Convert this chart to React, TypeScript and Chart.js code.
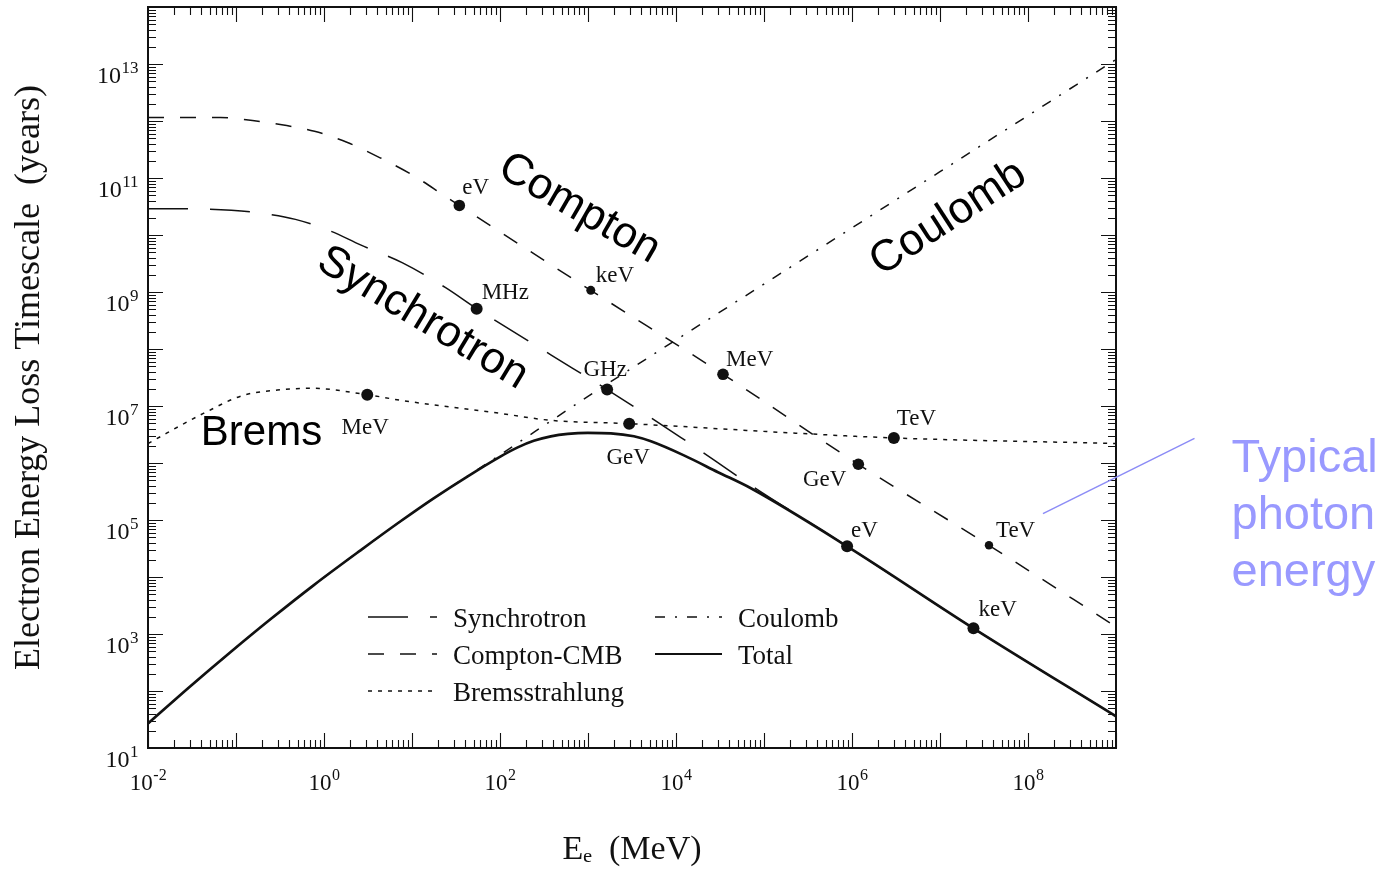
import React, { useEffect, useRef } from 'react';
import { Chart, registerables } from 'chart.js';

Chart.register(...registerables);

const SERIF = '"Liberation Serif", "Times New Roman", Times, serif';
const SANS = '"Liberation Sans", Arial, Helvetica, sans-serif';
const INK = '#111111';
const BLUE = '#9999ff';

// ---------------- data (electron energy in MeV, timescale in years) ----------------
const synchrotronE = [0.01, 0.0303, 0.0887, 0.2, 0.474, 1.19, 2.6, 7.82, 24.1, 54.3, 378, 1650, 1.14e4, 7.7e4, 8.8e5, 2.4e7, 1e9];
const synchrotronT = [2.9e10, 2.88e10, 2.71e10, 2.4e10, 1.88e10, 1.17e10, 6.7e9, 3.25e9, 1.19e9, 5.1e8, 7.9e7, 1.94e7, 2.8e6, 3.75e5, 3.46e4, 1260, 36];

const comptonE = [0.01, 0.0665, 0.154, 0.346, 0.78, 1.85, 4.4, 10.2, 22.9, 34.5, 1076, 3.42e4, 1.18e6, 3.6e7, 1e9];
const comptonT = [1.15e12, 1.15e12, 1.02e12, 8.5e11, 6.6e11, 4.2e11, 2.24e11, 1.12e11, 5.0e10, 3.3e10, 1.07e9, 3.6e7, 9.5e5, 3.6e4, 1340];

const bremsE = [0.01, 0.0426, 0.121, 0.296, 0.702, 3.1, 7.41, 102, 378, 2940, 2.6e5, 2.99e6, 1e9];
const bremsT = [2.2e6, 7.4e6, 1.54e7, 1.9e7, 2.05e7, 1.58e7, 1.26e7, 7.4e6, 5.6e6, 4.9e6, 3.3e6, 2.75e6, 2.2e6];

const coulombE = [0.01, 0.0303, 0.0863, 0.246, 0.76, 2.6, 7.41, 17.6, 43, 102, 1000, 1e5, 1e7, 1e9];
const coulombT = [26.8, 121, 478, 1810, 7150, 2.94e4, 9.5e4, 2.4e5, 5.9e5, 1.42e6, 1.47e7, 1.38e9, 1.29e11, 1.2e13];

const totalE = [0.01, 0.0303, 0.0863, 0.246, 0.76, 2.6, 7.41, 17.6, 43, 102, 159, 242, 378, 590, 995, 1820, 3320, 5190, 1.23e4, 3.0e4, 7.1e4, 8.8e5, 2.4e7, 1e9];
const totalT = [26.8, 121, 478, 1810, 7150, 2.94e4, 9.5e4, 2.4e5, 5.85e5, 1.31e6, 1.88e6, 2.45e6, 2.94e6, 3.25e6, 3.39e6, 3.32e6, 2.94e6, 2.4e6, 1.36e6, 6.9e5, 3.6e5, 3.46e4, 1260, 36];

// typical photon energy markers
const comptonMarkE = [34.5, 1076, 3.42e4, 1.18e6, 3.6e7];
const comptonMarkT = [3.3e10, 1.07e9, 3.6e7, 9.5e5, 3.6e4];
const comptonMarkLabels = ['eV', 'keV', 'MeV', 'GeV', 'TeV'];

const synchrotronMarkE = [54.3, 1650];
const synchrotronMarkT = [5.1e8, 1.94e7];
const synchrotronMarkLabels = ['MHz', 'GHz'];

const bremsMarkE = [3.1, 2940, 2.99e6];
const bremsMarkT = [1.58e7, 4.9e6, 2.75e6];
const bremsMarkLabels = ['MeV', 'GeV', 'TeV'];

const totalMarkE = [8.8e5, 2.4e7];
const totalMarkT = [3.46e4, 1260];
const totalMarkLabels = ['eV', 'keV'];

// axis ticks (powers of ten that carry a label)
const xTickExponents = [-2, 0, 2, 4, 6, 8];
const yTickExponents = [1, 3, 5, 7, 9, 11, 13];

const xTitle = 'Eₑ  (MeV)';
const yTitle = 'Electron Energy Loss Timescale  (years)';

// large overlay labels (anchored in data space)
const bigLabelTexts = ['Compton', 'Synchrotron', 'Coulomb', 'Brems'];
const bigLabelE = [796, 13.2, 1.24e7, 0.195];
const bigLabelT = [2.9e10, 3.46e8, 1.96e10, 3.25e6];

const noteLines = ['Typical', 'photon', 'energy'];
const notePointerE = [1.48e8, 7.8e9];
const notePointerT = [1.29e5, 2.71e6];

// ---------------- styles ----------------
const STYLE = {
  synchrotron: { dash: [40, 22], width: 1.5, label: 'Synchrotron' },
  compton: { dash: [16, 16], width: 1.5, label: 'Compton-CMB' },
  brems: { dash: [4, 6], width: 1.5, label: 'Bremsstrahlung' },
  coulomb: { dash: [10, 10, 2, 10], width: 1.5, label: 'Coulomb' },
  total: { dash: [] as number[], width: 2.7, label: 'Total' },
};

const bigLabelRotation = [30, 31, -33, 0];
const bigLabelSize = [44, 44, 44, 42];

// [dx, dy(baseline), align] relative to marker pixel
const comptonMarkOffsets: [number, number, CanvasTextAlign][] = [[3, -11, 'left'], [5, -8, 'left'], [3, -8, 'left'], [-12, 22, 'right'], [7, -8, 'left']];
const synchrotronMarkOffsets: [number, number, CanvasTextAlign][] = [[5, -10, 'left'], [-2, -14, 'center']];
const bremsMarkOffsets: [number, number, CanvasTextAlign][] = [[-2, 39, 'center'], [-1, 40, 'center'], [3, -13, 'left']];
const totalMarkOffsets: [number, number, CanvasTextAlign][] = [[4, -9, 'left'], [5, -12, 'left']];

const comptonMarkRadius = [5.8, 4.5, 5.8, 5.8, 4.2];
const synchrotronMarkRadius = [6, 6];
const bremsMarkRadius = [6, 6, 6];
const totalMarkRadius = [6, 6];

const pts = (e: number[], t: number[]) => e.map((x, i) => ({ x, y: t[i] }));

const lineDataset = (key: keyof typeof STYLE, e: number[], t: number[], order: number) => ({
  label: STYLE[key].label,
  data: pts(e, t),
  borderColor: INK,
  borderWidth: STYLE[key].width,
  borderDash: STYLE[key].dash,
  borderCapStyle: 'butt',
  borderJoinStyle: 'round',
  pointRadius: 0,
  fill: false,
  cubicInterpolationMode: 'monotone',
  order,
});

const markerDataset = (label: string, e: number[], t: number[], r: number[]) => ({
  label,
  data: pts(e, t),
  showLine: false,
  pointRadius: r,
  pointBackgroundColor: INK,
  pointBorderColor: INK,
  pointBorderWidth: 0,
  order: 0,
});

const overlayPlugin = {
  id: 'overlay',
  afterDraw(chart: any) {
    const { ctx, chartArea: a } = chart;
    const xs = chart.scales.x;
    const ys = chart.scales.y;
    ctx.save();
    ctx.setLineDash([]);

    // frame
    ctx.strokeStyle = INK;
    ctx.lineWidth = 2;
    ctx.strokeRect(a.left, a.top, a.right - a.left, a.bottom - a.top);

    // inward log ticks on all four sides
    ctx.lineWidth = 1.1;
    ctx.beginPath();
    for (let n = -2; n <= 9; n++) {
      for (let k = 1; k <= 9; k++) {
        const v = k * Math.pow(10, n);
        if (v < xs.min * 0.999 || v > xs.max * 1.001) continue;
        const p = Math.round(xs.getPixelForValue(v)) + 0.5;
        const len = k === 1 ? 15 : 8;
        ctx.moveTo(p, a.bottom);
        ctx.lineTo(p, a.bottom - len);
        ctx.moveTo(p, a.top);
        ctx.lineTo(p, a.top + len);
      }
    }
    for (let n = 1; n <= 14; n++) {
      for (let k = 1; k <= 9; k++) {
        const v = k * Math.pow(10, n);
        if (v < ys.min * 0.999 || v > ys.max * 1.001) continue;
        const p = Math.round(ys.getPixelForValue(v)) + 0.5;
        const len = k === 1 ? 15 : 8;
        ctx.moveTo(a.left, p);
        ctx.lineTo(a.left + len, p);
        ctx.moveTo(a.right, p);
        ctx.lineTo(a.right - len, p);
      }
    }
    ctx.stroke();

    // tick labels: 10^n
    ctx.fillStyle = INK;
    ctx.textBaseline = 'alphabetic';
    ctx.textAlign = 'left';
    const drawPow = (exp: number, anchorX: number, baseline: number, align: 'center' | 'right', baseSize: number, expSize: number) => {
      const b = '10';
      const e = String(exp);
      ctx.font = `${baseSize}px ${SERIF}`;
      const wb = ctx.measureText(b).width;
      ctx.font = `${expSize}px ${SERIF}`;
      const we = ctx.measureText(e).width;
      const x0 = align === 'center' ? anchorX - (wb + we) / 2 : anchorX - wb - we;
      ctx.font = `${baseSize}px ${SERIF}`;
      ctx.fillText(b, x0, baseline);
      ctx.font = `${expSize}px ${SERIF}`;
      ctx.fillText(e, x0 + wb + 0.5, baseline - 10);
    };
    xTickExponents.forEach((n) => {
      const p = xs.getPixelForValue(Math.pow(10, n));
      drawPow(n, p, a.bottom + 42, 'center', 23, 16);
    });
    yTickExponents.forEach((n) => {
      const p = ys.getPixelForValue(Math.pow(10, n));
      drawPow(n, a.left - 10, p + 19, 'right', 24, 17);
    });

    // marker labels
    ctx.font = `23px ${SERIF}`;
    const markerGroups: [number, string[], [number, number, CanvasTextAlign][]][] = [
      [0, comptonMarkLabels, comptonMarkOffsets],
      [1, synchrotronMarkLabels, synchrotronMarkOffsets],
      [2, bremsMarkLabels, bremsMarkOffsets],
      [3, totalMarkLabels, totalMarkOffsets],
    ];
    markerGroups.forEach(([di, labels, offs]) => {
      const meta = chart.getDatasetMeta(di);
      meta.data.forEach((pt: any, i: number) => {
        const [dx, dy, al] = offs[i];
        ctx.textAlign = al;
        ctx.fillText(labels[i], pt.x + dx, pt.y + dy);
      });
    });

    // legend (inside the plot, two columns)
    const legendEntries: [keyof typeof STYLE, number, number][] = [
      ['synchrotron', 0, 0],
      ['compton', 0, 1],
      ['brems', 0, 2],
      ['coulomb', 1, 0],
      ['total', 1, 1],
    ];
    const colSample = [[a.left + 220, a.left + 289], [a.left + 507, a.left + 574]];
    const colText = [a.left + 305, a.left + 590];
    legendEntries.forEach(([key, col, row]) => {
      const s = STYLE[key];
      const yLine = a.bottom - 131 + row * 37;
      ctx.beginPath();
      ctx.setLineDash(s.dash);
      ctx.lineWidth = key === 'total' ? 2 : s.width;
      ctx.lineCap = 'butt';
      ctx.strokeStyle = INK;
      ctx.moveTo(colSample[col][0], yLine);
      ctx.lineTo(colSample[col][1], yLine);
      ctx.stroke();
      ctx.setLineDash([]);
      ctx.font = `27px ${SERIF}`;
      ctx.textAlign = 'left';
      ctx.fillText(s.label, colText[col], yLine + 10);
    });

    // large overlay labels
    bigLabelTexts.forEach((txt, i) => {
      const px = xs.getPixelForValue(bigLabelE[i]);
      const py = ys.getPixelForValue(bigLabelT[i]);
      ctx.save();
      ctx.translate(px, py);
      ctx.rotate((bigLabelRotation[i] * Math.PI) / 180);
      ctx.font = `${bigLabelSize[i]}px ${SANS}`;
      ctx.textAlign = 'center';
      ctx.textBaseline = 'middle';
      ctx.fillStyle = '#000';
      ctx.fillText(txt, 0, 0);
      ctx.restore();
    });

    // "Typical photon energy" note with pointer
    const p0x = xs.getPixelForValue(notePointerE[0]);
    const p0y = ys.getPixelForValue(notePointerT[0]);
    const p1x = xs.getPixelForValue(notePointerE[1]);
    const p1y = ys.getPixelForValue(notePointerT[1]);
    ctx.beginPath();
    ctx.strokeStyle = '#8c8cf6';
    ctx.lineWidth = 1.5;
    ctx.moveTo(p0x, p0y);
    ctx.lineTo(p1x, p1y);
    ctx.stroke();
    ctx.fillStyle = BLUE;
    ctx.font = `47px ${SANS}`;
    ctx.textAlign = 'left';
    ctx.textBaseline = 'alphabetic';
    noteLines.forEach((ln, i) => {
      ctx.fillText(ln, p1x + 37, p1y + 34 + i * 57);
    });

    ctx.restore();
  },
};

export default function App() {
  const canvasRef = useRef<HTMLCanvasElement | null>(null);

  useEffect(() => {
    if (!canvasRef.current) return;
    const chart = new Chart(canvasRef.current, {
      type: 'line',
      data: {
        datasets: [
          markerDataset('Compton markers', comptonMarkE, comptonMarkT, comptonMarkRadius),
          markerDataset('Synchrotron markers', synchrotronMarkE, synchrotronMarkT, synchrotronMarkRadius),
          markerDataset('Brems markers', bremsMarkE, bremsMarkT, bremsMarkRadius),
          markerDataset('Total markers', totalMarkE, totalMarkT, totalMarkRadius),
          lineDataset('total', totalE, totalT, 1),
          lineDataset('synchrotron', synchrotronE, synchrotronT, 2),
          lineDataset('compton', comptonE, comptonT, 3),
          lineDataset('brems', bremsE, bremsT, 4),
          lineDataset('coulomb', coulombE, coulombT, 5),
        ] as any,
      },
      options: {
        animation: false,
        responsive: false,
        maintainAspectRatio: false,
        events: [],
        layout: { padding: { left: 0, top: 7, right: 276, bottom: 0 } },
        plugins: {
          legend: { display: false },
          tooltip: { enabled: false },
          title: { display: false },
        },
        scales: {
          x: {
            type: 'logarithmic',
            min: 0.01,
            max: 1e9,
            grid: { display: false },
            border: { display: false },
            ticks: { display: false },
            title: {
              display: true,
              text: xTitle,
              color: INK,
              font: { family: SERIF, size: 34 },
              padding: { top: 0, bottom: 2 },
            },
            afterFit: (scale: any) => {
              scale.height = 124;
            },
          },
          y: {
            type: 'logarithmic',
            min: 10,
            max: 1e14,
            grid: { display: false },
            border: { display: false },
            ticks: { display: false },
            title: {
              display: true,
              text: yTitle,
              color: INK,
              font: { family: SERIF, size: 36 },
              padding: { top: 8, bottom: 0 },
            },
            afterFit: (scale: any) => {
              scale.width = 148;
            },
          },
        },
      } as any,
      plugins: [overlayPlugin],
    });
    return () => chart.destroy();
  }, []);

  return (
    <div style={{ position: 'absolute', left: 0, top: 0, width: 1392, height: 872, background: '#fff' }}>
      <canvas ref={canvasRef} width={1392} height={872} style={{ display: 'block' }} />
    </div>
  );
}
